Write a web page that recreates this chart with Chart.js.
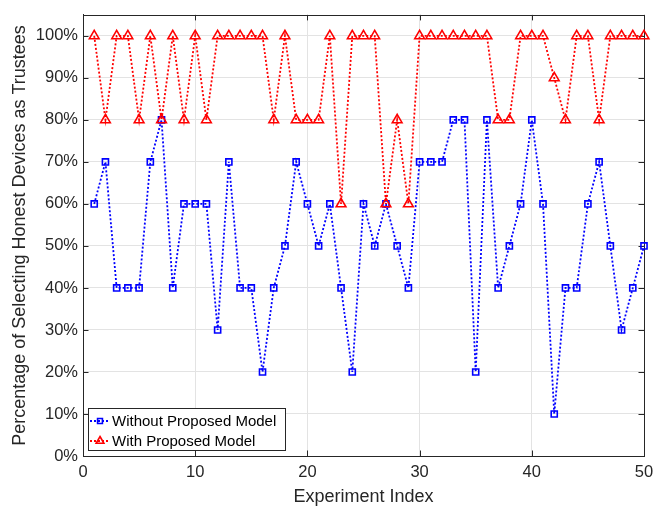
<!DOCTYPE html>
<html><head><meta charset="utf-8">
<script src="https://cdn.jsdelivr.net/npm/chart.js"></script>
<style>html,body{margin:0;padding:0;background:#fff}#wrap{width:668px;height:509px}</style>
</head><body><div id="wrap"><canvas id="c" width="668" height="509"></canvas></div>
<script>
const experimentIndex = [1,2,3,4,5,6,7,8,9,10,11,12,13,14,15,16,17,18,19,20,21,22,23,24,25,26,27,28,29,30,31,32,33,34,35,36,37,38,39,40,41,42,43,44,45,46,47,48,49,50];
const withoutModel = [60,70,40,40,40,70,80,40,60,60,60,30,70,40,40,20,40,50,70,60,50,60,40,20,60,50,60,50,40,70,70,70,80,80,20,80,40,50,60,80,60,10,40,40,60,70,50,30,40,50];
const withModel = [100,80,100,100,80,100,80,100,80,100,80,100,100,100,100,100,80,100,80,80,80,100,60,100,100,100,60,80,60,100,100,100,100,100,100,100,80,80,100,100,100,90,80,100,100,80,100,100,100,100];
const xTickValues = [0,10,20,30,40,50];
const yTickValues = [0,10,20,30,40,50,60,70,80,90,100];
const seriesLabels = ['Without Proposed Model','With Proposed Model'];
const xTitle = 'Experiment Index';
const yTitle = 'Percentage of Selecting Honest Devices as Trustees';

const FONT = "'Liberation Sans', Arial, Helvetica, sans-serif";
const TXT = '#262626';

function drawMarker(ctx, style, x, y, r) {
  ctx.beginPath();
  if (style === 'rect') {
    const s = r * Math.SQRT1_2;
    ctx.rect(x - s, y - s, 2 * s, 2 * s);
  } else {
    for (let k = 0; k < 3; k++) {
      const a = k * 2 * Math.PI / 3;
      const px = x + Math.sin(a) * r, py = y - Math.cos(a) * r;
      if (k === 0) ctx.moveTo(px, py); else ctx.lineTo(px, py);
    }
    ctx.closePath();
  }
  ctx.stroke();
}

const framePlugin = {
  id: 'frame',
  beforeDatasetsDraw(chart) {
    const {ctx, chartArea: a, scales} = chart;
    ctx.save();
    ctx.strokeStyle = TXT;
    ctx.lineWidth = 1;
    ctx.setLineDash([]);
    ctx.strokeRect(Math.round(a.left) + 0.5, Math.round(a.top) + 0.5, Math.round(a.right - a.left), Math.round(a.bottom - a.top));
    const tl = 5.5;
    ctx.beginPath();
    yTickValues.forEach(v => {
      const y = Math.round(scales.y.getPixelForValue(v)) + 0.5;
      ctx.moveTo(a.left, y); ctx.lineTo(a.left + tl, y);
      ctx.moveTo(a.right, y); ctx.lineTo(a.right - tl, y);
    });
    xTickValues.forEach(v => {
      const x = Math.round(scales.x.getPixelForValue(v)) + 0.5;
      ctx.moveTo(x, a.bottom); ctx.lineTo(x, a.bottom - tl);
      ctx.moveTo(x, a.top); ctx.lineTo(x, a.top + tl);
    });
    ctx.stroke();
    ctx.restore();
  },
  afterDraw(chart) {
    const {ctx, chartArea: a} = chart;
    ctx.save();
    const bx = Math.round(a.left) + 5, by = Math.round(a.bottom) - 48, bw = 197, bh = 42;
    ctx.fillStyle = '#fff';
    ctx.fillRect(bx, by, bw, bh);
    ctx.strokeStyle = TXT;
    ctx.lineWidth = 1;
    ctx.setLineDash([]);
    ctx.strokeRect(bx + 0.5, by + 0.5, bw, bh);
    chart.data.datasets.forEach((ds, i) => {
      const y = by + 13 + i * 20;
      ctx.strokeStyle = ds.borderColor;
      ctx.lineWidth = ds.borderWidth;
      ctx.setLineDash(ds.borderDash);
      ctx.beginPath();
      ctx.moveTo(bx + 2, y); ctx.lineTo(bx + 22, y);
      ctx.stroke();
      ctx.setLineDash([]);
      ctx.lineWidth = ds.pointBorderWidth;
      drawMarker(ctx, ds.pointStyle, bx + 12, y, ds.pointRadius * 0.8);
      ctx.fillStyle = '#000';
      ctx.font = '15px ' + FONT;
      ctx.textBaseline = 'middle';
      ctx.textAlign = 'left';
      ctx.fillText(ds.label, bx + 24, y + 1);
    });
    ctx.restore();
  }
};

const tickFont = {family: FONT, size: 16.5};
const titleFont = {family: FONT, size: 18};

new Chart(document.getElementById('c'), {
  type: 'line',
  data: {
    datasets: [
      {
        label: seriesLabels[0],
        data: experimentIndex.map((x, i) => ({x: x, y: withoutModel[i]})),
        borderColor: '#0000ff', borderDash: [2, 2], borderWidth: 1.8,
        pointStyle: 'rect', pointRadius: 4.3, pointBorderWidth: 1.6,
        pointBackgroundColor: 'rgba(0,0,0,0)', pointBorderColor: '#0000ff',
        fill: false, tension: 0, order: 2, clip: false
      },
      {
        label: seriesLabels[1],
        data: experimentIndex.map((x, i) => ({x: x, y: withModel[i]})),
        borderColor: '#ff0000', borderDash: [2, 2], borderWidth: 1.8,
        pointStyle: 'triangle', pointRadius: 5.6, pointBorderWidth: 1.6,
        pointBackgroundColor: 'rgba(0,0,0,0)', pointBorderColor: '#ff0000',
        fill: false, tension: 0, order: 1, clip: false
      }
    ]
  },
  options: {
    responsive: false, animation: false, devicePixelRatio: 1,
    layout: {padding: {left: 0, right: 24, top: 14, bottom: 0}},
    plugins: {legend: {display: false}, tooltip: {enabled: false}},
    elements: {line: {borderCapStyle: 'butt'}},
    scales: {
      x: {
        type: 'linear', min: 0, max: 50,
        afterBuildTicks: s => { s.ticks = xTickValues.map(v => ({value: v})); },
        afterFit: s => { s.height = 53; },
        grid: {color: '#e3e3e3', drawTicks: false, lineWidth: 1},
        border: {display: true, color: TXT, width: 1},
        ticks: {padding: 7, font: tickFont, color: TXT, autoSkip: false, maxRotation: 0},
        title: {display: true, text: xTitle, font: titleFont, color: TXT, padding: {top: 0, bottom: 1}}
      },
      y: {
        type: 'linear', min: 0, max: 105,
        afterBuildTicks: s => { s.ticks = yTickValues.map(v => ({value: v})); },
        afterFit: s => { s.width = 83; },
        grid: {color: '#e3e3e3', drawTicks: false, lineWidth: 1},
        border: {display: true, color: TXT, width: 1},
        ticks: {padding: 5, font: tickFont, color: TXT, autoSkip: false, callback: v => v + '%'},
        title: {display: true, text: yTitle, font: titleFont, color: TXT, padding: {top: 9, bottom: 0}}
      }
    }
  },
  plugins: [framePlugin]
});
</script>
</body></html>
